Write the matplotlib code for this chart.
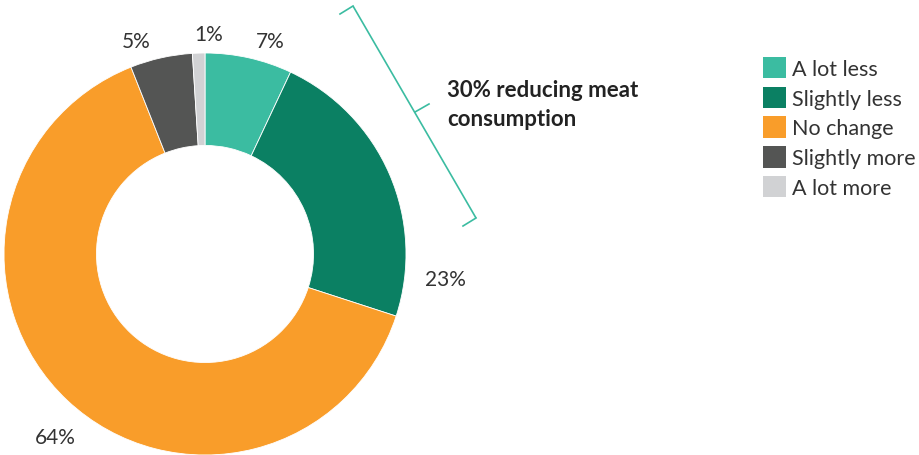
import matplotlib
matplotlib.use("Agg")
import matplotlib.pyplot as plt
from matplotlib.patches import Patch

plt.rcParams['font.family'] = ['Lato', 'DejaVu Sans']

categories = ["A lot less", "Slightly less", "No change", "Slightly more", "A lot more"]
values = [7, 23, 64, 5, 1]
colors = ["#3bbca1", "#0b8063", "#f99d2a", "#545554", "#d1d2d4"]
pct_labels = ["7%", "23%", "64%", "5%", "1%"]
annotation = "30% reducing meat\nconsumption"

W, H = 920, 456
fig = plt.figure(figsize=(W / 100, H / 100), dpi=100)
ax = fig.add_axes([0, 0, 1, 1])

cx, cy, R = 205, H - 255, 201
wedges, _ = ax.pie(values, colors=colors, startangle=90, counterclock=False,
                   center=(cx, cy), radius=R,
                   wedgeprops=dict(width=R * 0.46, edgecolor="white", linewidth=0.6))
ax.set_xlim(0, W)
ax.set_ylim(0, H)
ax.set_aspect("equal")
ax.axis("off")

# percentage labels (positions in pixel coords, from top)
label_pos = [(270, 42), (445, 280), (55, 438), (136, 42), (209, 35)]
for txt, (x, y) in zip(pct_labels, label_pos):
    ax.text(x, H - y, txt, ha="center", va="center", fontsize=15,
            color="#333333", fontweight="normal")

# bracket
bc = "#3bbca1"
ax.plot([353, 476], [H - 7, H - 219], color=bc, lw=1.2, solid_capstyle="butt")
ax.plot([353, 340], [H - 7, H - 15], color=bc, lw=1.2)
ax.plot([476, 463], [H - 219, H - 227], color=bc, lw=1.2)
ax.plot([415, 429], [H - 113, H - 105], color=bc, lw=1.2)

ax.text(447, H - 105, annotation, ha="left", va="center", fontsize=16,
        fontweight="bold", color="#222222", linespacing=1.45)

handles = [Patch(facecolor=c, edgecolor="none") for c in colors]
leg = fig.legend(handles, categories, loc="upper left",
                 bbox_to_anchor=(763 / W, 1 - 58 / H), frameon=False,
                 fontsize=15.5, handlelength=1.05, handleheight=1.15,
                 handletextpad=0.3, labelspacing=0.36, borderaxespad=0,
                 borderpad=0)
for t in leg.get_texts():
    t.set_color("#333333")

fig.savefig("out.png", dpi=100)
